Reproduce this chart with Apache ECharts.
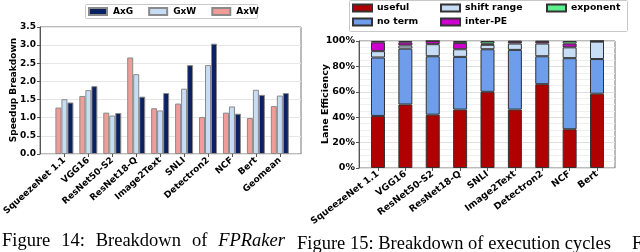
<!DOCTYPE html>
<html><head><meta charset="utf-8">
<script src="https://cdn.jsdelivr.net/npm/echarts@6/dist/echarts.min.js"></script>
<style>html,body{margin:0;padding:0;background:#fff}#c{width:640px;height:252px}</style>
</head><body><div id="c"></div>
<script>
// ---- Figure 14 data ----
const catsL = ['SqueezeNet 1.1','VGG16','ResNet50-S2','ResNet18-Q','Image2Text','SNLI','Detectron2','NCF','Bert','Geomean'];
const axw = [1.28,1.60,1.14,2.66,1.26,1.39,1.02,1.14,0.99,1.32];
const gxw = [1.51,1.76,1.06,2.20,1.20,1.80,2.45,1.31,1.77,1.61];
const axg = [1.42,1.87,1.13,1.58,1.68,2.45,3.04,1.11,1.63,1.68];
const yTicksL = [0,0.5,1,1.5,2,2.5,3,3.5];
// ---- Figure 15 data (percent) ----
const catsR = ['SqueezeNet 1.1','VGG16','ResNet50-S2','ResNet18-Q','SNLI','Image2Text','Detectron2','NCF','Bert'];
const useful = [41,50,42,46,60,46,66,30.5,58.5];
const noTerm = [46,44,46,41.5,33.5,47,22,56,27.3];
const shiftRange = [5,2.5,9.5,6,3.5,5,10,8.5,13.7];
const interPE = [7,2.5,2.5,5,1,1.5,1.5,3,0.5];
const exponent = [1,1,0,1.5,2,0.5,0.5,2,0];

const F = 'DejaVu Sans';
const lab = (s)=>({fontFamily:F,fontWeight:'bold',fontSize:s,color:'#000'});
const chart = echarts.init(document.getElementById('c'),null,{renderer:'canvas'});

const edgeL = {borderColor:'#8a8a8a',borderWidth:1};
const edgeR = {borderColor:'#333',borderWidth:1};
const serif = {fontFamily:'Liberation Serif',fontSize:18.5,fill:'#000'};
const capL = [['Figure',2,''],['14:',61.2,''],['Breakdown',95.7,''],['of',191.9,''],['FPRaker',218.2,'italic']];

chart.setOption({
  animation:false,
  grid:[
    {left:40,right:339,top:27,bottom:98,show:true,borderColor:'#777',borderWidth:1,z:0},
    {left:48.3,width:243.5,top:27,bottom:98},
    {left:359,right:25,top:41,bottom:84,show:true,borderColor:'#777',borderWidth:1,z:0},
    {left:364.3,width:246.4,top:41,bottom:84}
  ],
  xAxis:[
    {gridIndex:0,type:'value',min:0,max:1,show:false},
    {gridIndex:1,type:'category',data:catsL,axisLine:{show:false},
     axisTick:{show:true,alignWithLabel:true,length:3,lineStyle:{color:'#555'}},
     axisLabel:{...lab(9),rotate:42,interval:0,margin:5}},
    {gridIndex:2,type:'value',min:0,max:1,show:false},
    {gridIndex:3,type:'category',data:catsR,axisLine:{show:false},
     axisTick:{show:true,alignWithLabel:true,length:3,lineStyle:{color:'#555'}},
     axisLabel:{...lab(9.3),rotate:37,interval:0,margin:5}}
  ],
  yAxis:[
    {gridIndex:0,type:'value',min:yTicksL[0],max:yTicksL[yTicksL.length-1],interval:0.5,
     axisLine:{show:true,lineStyle:{color:'#555'}},axisTick:{show:true,length:3,lineStyle:{color:'#555'}},
     splitLine:{show:true,lineStyle:{color:'#e6e6e6'}},
     axisLabel:{...lab(9),margin:4,formatter:v=>v.toFixed(1)}},
    {gridIndex:1,type:'value',min:0,max:3.5,show:false},
    {gridIndex:2,type:'value',min:0,max:100,interval:20,
     axisLine:{show:true,lineStyle:{color:'#555'}},axisTick:{show:true,length:3,lineStyle:{color:'#555'}},
     splitLine:{show:true,lineStyle:{color:'#e0e0e0'}},
     minorTick:{show:false,splitNumber:4},
     minorSplitLine:{show:true,lineStyle:{color:'#f0f0f0'}},
     axisLabel:{...lab(9.5),margin:4,formatter:'{value}%'}},
    {gridIndex:3,type:'value',min:0,max:100,show:false}
  ],
  legend:[
    {data:['AxG','GxW','AxW'],left:88,top:7,padding:0,itemWidth:18,itemHeight:7,itemGap:15,
     textStyle:{...lab(9),padding:[0,0,0,1]},icon:'rect'},
    {data:['useful','no term'],orient:'vertical',left:352,top:3,padding:0,itemWidth:19,itemHeight:7,itemGap:4,
     textStyle:{...lab(9.3),lineHeight:10},icon:'rect'},
    {data:['shift range','inter-PE'],orient:'vertical',left:440,top:3,padding:0,itemWidth:19,itemHeight:7,itemGap:4,
     textStyle:{...lab(9.3),lineHeight:10},icon:'rect'},
    {data:['exponent'],orient:'vertical',left:546,top:3,padding:0,itemWidth:19,itemHeight:7,itemGap:4,
     textStyle:{...lab(9.3),lineHeight:10},icon:'rect'}
  ],
  series:[
    {name:'AxW',type:'bar',xAxisIndex:1,yAxisIndex:1,data:axw,barWidth:6,barGap:'0%',itemStyle:{color:'#f29c97',...edgeL}},
    {name:'GxW',type:'bar',xAxisIndex:1,yAxisIndex:1,data:gxw,barWidth:6,barGap:'0%',itemStyle:{color:'#c7dcf5',...edgeL}},
    {name:'AxG',type:'bar',xAxisIndex:1,yAxisIndex:1,data:axg,barWidth:6,barGap:'0%',itemStyle:{color:'#0a2163',...edgeL}},
    {name:'useful',type:'bar',stack:'s',xAxisIndex:3,yAxisIndex:3,data:useful,barWidth:14,itemStyle:{color:'#b00000',...edgeR}},
    {name:'no term',type:'bar',stack:'s',xAxisIndex:3,yAxisIndex:3,data:noTerm,barWidth:14,itemStyle:{color:'#6d9deb',...edgeR}},
    {name:'shift range',type:'bar',stack:'s',xAxisIndex:3,yAxisIndex:3,data:shiftRange,barWidth:14,itemStyle:{color:'#c7dcf5',...edgeR}},
    {name:'inter-PE',type:'bar',stack:'s',xAxisIndex:3,yAxisIndex:3,data:interPE,barWidth:14,itemStyle:{color:'#cc00cc',...edgeR}},
    {name:'exponent',type:'bar',stack:'s',xAxisIndex:3,yAxisIndex:3,data:exponent,barWidth:14,itemStyle:{color:'#5ef08e',...edgeR}}
  ],
  graphic:[
    {type:'rect',shape:{x:85.5,y:4.5,width:172,height:14,r:1},style:{fill:'#fff',stroke:'#c8c8c8',lineWidth:1},z:-1},
    {type:'rect',shape:{x:349.5,y:0.5,width:278,height:31,r:1},style:{fill:'#fff',stroke:'#c8c8c8',lineWidth:1},z:-1},
    {type:'text',x:14,y:90,rotation:Math.PI/2,style:{text:'Speedup Breakdown',font:'bold 9px "DejaVu Sans"',fill:'#000',align:'center',verticalAlign:'middle'}},
    {type:'text',x:326,y:104,rotation:Math.PI/2,style:{text:'Lane Efficiency',font:'bold 9.5px "DejaVu Sans"',fill:'#000',align:'center',verticalAlign:'middle'}},
    ...capL.map(w=>({type:'text',x:w[1],y:241,style:{text:w[0],...serif,fontStyle:w[2]||'normal',verticalAlign:'middle'}})),
    {type:'text',x:297,y:244,style:{text:'Figure 15: Breakdown of execution cycles',...serif,verticalAlign:'middle'}},
    {type:'text',x:632,y:244,style:{text:'F',...serif,verticalAlign:'middle'}}
  ]
});
</script></body></html>
